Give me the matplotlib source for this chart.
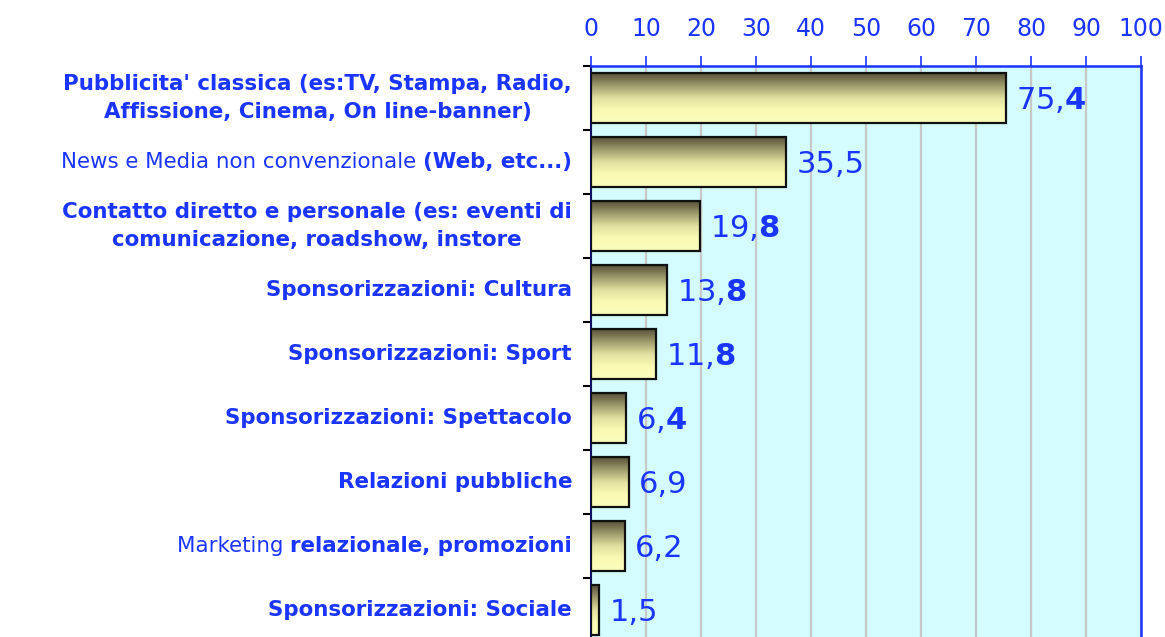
import numpy as np
import matplotlib
matplotlib.use('Agg')
import matplotlib.pyplot as plt
from matplotlib.colors import LinearSegmentedColormap

plt.rcParams['font.family'] = 'DejaVu Sans'
plt.rcParams['mathtext.fontset'] = 'custom'
plt.rcParams['mathtext.rm'] = 'DejaVu Sans'
plt.rcParams['mathtext.bf'] = 'DejaVu Sans:bold'

# data, top to bottom; each label = (normal part, bold part)
labels_normal = ["", "News e Media non convenzionale ", "", "", "", "", "", "Marketing ", ""]
labels_bold = [
    "Pubblicita' classica (es:TV, Stampa, Radio,\nAffissione, Cinema, On line-banner)",
    "(Web, etc...)",
    "Contatto diretto e personale (es: eventi di\ncomunicazione, roadshow, instore",
    "Sponsorizzazioni: Cultura",
    "Sponsorizzazioni: Sport",
    "Sponsorizzazioni: Spettacolo",
    "Relazioni pubbliche",
    "relazionale, promozioni",
    "Sponsorizzazioni: Sociale",
]
values = [75.4, 35.5, 19.8, 13.8, 11.8, 6.4, 6.9, 6.2, 1.5]
value_labels = [r"75,$\mathbf{4}$", "35,5", r"19,$\mathbf{8}$", r"13,$\mathbf{8}$",
                r"11,$\mathbf{8}$", r"6,$\mathbf{4}$", "6,9", "6,2", "1,5"]

blue = '#1a35ff'
bar_h = 0.78
lab_size = 15.4
lab_pad = 19  # pixels

fig = plt.figure(figsize=(11.65, 6.37), dpi=100)
ax = fig.add_axes([0.5073, 0.0, 0.4721, 0.8964])
ax.set_facecolor('#d4fcff')

# bars: dark olive at the top fading to pale yellow
cmap = LinearSegmentedColormap.from_list('bar', ['#58533a', '#9f9c6c', '#e2e0a0', '#fafab4', '#fdfdbc'])
grad = np.linspace(0, 1, 64).reshape(-1, 1)

y = np.arange(len(values))
for i, v in enumerate(values):
    ax.imshow(grad, cmap=cmap, aspect='auto', zorder=3,
              extent=[0, v, i + bar_h / 2, i - bar_h / 2])
ax.barh(y, values, height=bar_h, fill=False, edgecolor='#111111', linewidth=1.6, zorder=4)

for i, v in enumerate(values):
    ax.annotate(value_labels[i], (v, i), xytext=(10, -2), textcoords='offset pixels',
                va='center', ha='left', fontsize=22, color=blue, zorder=5)

ax.set_xlim(0, 100)
ax.set_ylim(8.42, -0.5)
ax.set_xticks(np.arange(0, 101, 10))
ax.xaxis.tick_top()
ax.tick_params(axis='x', colors=blue, labelsize=17, length=7, width=1.2, pad=11)
ax.xaxis.grid(True, color='#c8c8c8', linewidth=1.6, zorder=1)
ax.set_axisbelow(True)

ax.set_yticks(np.arange(-0.5, 8.5, 1))
ax.set_yticklabels([])
ax.tick_params(axis='y', colors='black', length=6, width=1.5)

# category labels: bold part right-aligned, normal part to its left
renderer = fig.canvas.get_renderer()
for i in y:
    tb = ax.annotate(labels_bold[i], (0, i), xycoords=('axes fraction', 'data'),
                     xytext=(-lab_pad, 0), textcoords='offset pixels',
                     ha='right', va='center', fontsize=lab_size, fontweight='bold',
                     color=blue, multialignment='center', linespacing=1.5)
    if labels_normal[i]:
        w = tb.get_window_extent(renderer).width
        ax.annotate(labels_normal[i], (0, i), xycoords=('axes fraction', 'data'),
                    xytext=(-lab_pad - w, 0), textcoords='offset pixels',
                    ha='right', va='center', fontsize=lab_size, color=blue)

ax.spines['top'].set_color(blue)
ax.spines['top'].set_linewidth(1.8)
ax.spines['right'].set_color(blue)
ax.spines['right'].set_linewidth(1.8)
ax.spines['left'].set_color('#101060')
ax.spines['left'].set_linewidth(1.5)
ax.spines['bottom'].set_visible(False)

fig.savefig('out.png', dpi=100)
